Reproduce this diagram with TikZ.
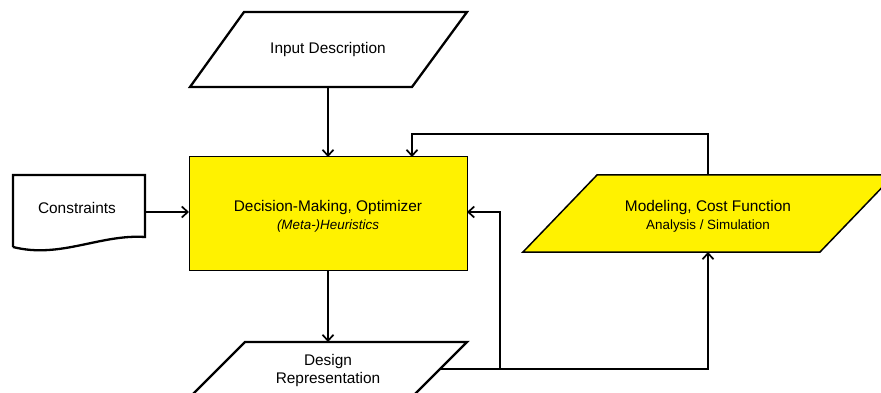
\documentclass[tikz,border=0pt]{standalone}
\usepackage{fontspec}
\setmainfont{Liberation Sans}
\usetikzlibrary{arrows.meta}
\begin{document}
\begin{tikzpicture}[x=1pt,y=-1pt,
  shapeline/.style={draw=black,line width=2.3pt,line join=miter},
  conn/.style={draw=black,line width=1.7pt,-{Straight Barb[length=6pt,width=11pt,line width=1.7pt]}},
  big/.style={font=\fontsize{15.4}{18}\selectfont,inner sep=0pt},
  small/.style={font=\fontsize{13.4}{16}\selectfont,inner sep=0pt},
  ylw/.style={fill=yellow}]
\useasboundingbox (0,0) rectangle (881,393);
\clip (0,0) rectangle (881,393);
% Input Description
\draw[shapeline] (244,12) -- (467,12) -- (412,87) -- (190,87) -- cycle;
\node[big] (inp) at (328,49.5) {Input Description};
\coordinate (inpB) at (328,87);
% Main box
\draw[ylw,draw=black,line width=1pt] (189,157) rectangle (467,270);
\node[big] (dm) at (328,208) {Decision-Making, Optimizer};
\node[small] (heur) at (328,226) {\itshape (Meta-)Heuristics};
\coordinate (boxT) at (328,157);
\coordinate (boxT2) at (412,157);
\coordinate (boxL) at (189,212);
\coordinate (boxR) at (467,212);
\coordinate (boxB) at (328,270);
% Constraints
\draw[shapeline] (13,247) -- (13,175) -- (145,175) -- (145,237)
  .. controls (100,234) and (60,259) .. (13,247);
\node[big] (con) at (77,208) {Constraints};
\coordinate (conR) at (145,212);
% Modeling
\draw[ylw,draw=black,line width=1.5pt] (597,175) -- (894,175) -- (820,252) -- (523,252) -- cycle;
\node[big] (mod) at (708,208) {Modeling, Cost Function};
\node[small] (ana) at (708,226) {Analysis / Simulation};
\coordinate (modT) at (708,175);
\coordinate (modB) at (708,252);
% Design Representation
\draw[shapeline] (245,342) -- (467,342) -- (379,430) -- (157,430) -- cycle;
\node[big] (des1) at (328,362) {Design};
\node[big] (des2) at (328,380) {Representation};
\coordinate (desT) at (328,342);
\coordinate (desR) at (441,369);
% connectors
\draw[conn] (inpB) -- (boxT);
\draw[conn] (conR) -- (boxL);
\draw[conn] (boxB) -- (desT);
\draw[conn] (desR) -- (708,369) -- (modB);
\draw[conn] (500,369) -- (500,212) -- (boxR);
\draw[conn] (modT) -- (708,134) -- (412,134) -- (boxT2);
\end{tikzpicture}
\end{document}
